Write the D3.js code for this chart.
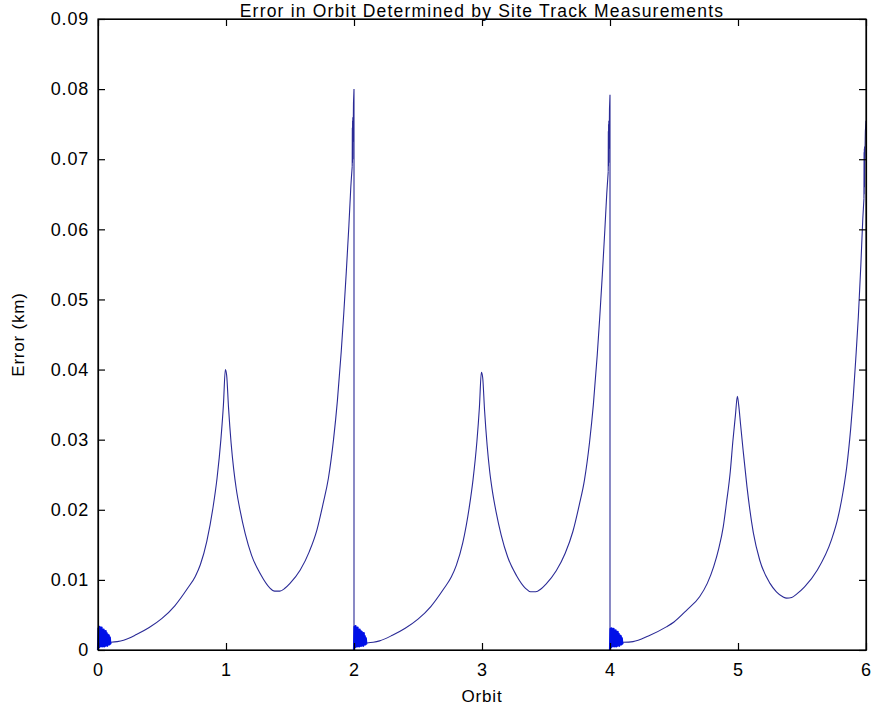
<!DOCTYPE html>
<html><head><meta charset="utf-8">
<script src="https://cdn.jsdelivr.net/npm/d3@7/dist/d3.min.js"></script>
<style>
body{margin:0;background:#fff;}
text{font-family:"Liberation Sans",Arial,sans-serif;fill:#000;}
</style></head>
<body><svg id="chart" width="874" height="715"></svg>
<script>
// ---- data ----
const chartTitle = "Error in Orbit Determined by Site Track Measurements";
const xLabel = "Orbit";
const yLabel = "Error (km)";
const orbitTicks = [0,1,2,3,4,5,6];
const errorTicks = [0,0.01,0.02,0.03,0.04,0.05,0.06,0.07,0.08,0.09];
const errorTickLabels = ["0","0.01","0.02","0.03","0.04","0.05","0.06","0.07","0.08","0.09"];

// smooth part of each orbit pair
const cycle1Orbit = [0.10,0.15,0.20,0.30,0.40,0.50,0.60,0.70,0.76,0.80,0.85,0.90,0.93,0.96,0.98,0.995,1.005,1.02,1.04,1.06,1.08,1.11,1.15,1.20,1.27,1.34,1.38,1.42,1.46,1.50,1.58,1.65,1.71,1.76,1.80,1.84,1.87,1.90,1.92,1.94,1.96,1.975,1.986];
const cycle1Error = [0.0011,0.0012,0.0014,0.0022,0.0032,0.0045,0.0063,0.0088,0.0105,0.0122,0.0155,0.0205,0.0245,0.0300,0.0350,0.0400,0.0392,0.0345,0.0295,0.0258,0.0230,0.0199,0.0166,0.0135,0.0108,0.0089,0.0084,0.0084,0.0088,0.0095,0.0114,0.0140,0.0171,0.0210,0.0245,0.0300,0.0355,0.0425,0.0480,0.0540,0.0605,0.0660,0.0690];
const cycle2Orbit = [2.10,2.15,2.20,2.30,2.40,2.50,2.60,2.70,2.76,2.80,2.85,2.90,2.93,2.96,2.98,2.995,3.005,3.02,3.04,3.06,3.08,3.11,3.15,3.20,3.27,3.34,3.38,3.42,3.46,3.50,3.58,3.65,3.71,3.76,3.80,3.84,3.87,3.90,3.92,3.94,3.96,3.975,3.986];
const cycle2Error = [0.0010,0.0011,0.0013,0.0021,0.0031,0.0044,0.0062,0.0087,0.0104,0.0121,0.0153,0.0203,0.0243,0.0297,0.0347,0.0396,0.0389,0.0342,0.0292,0.0255,0.0228,0.0197,0.0164,0.0133,0.0106,0.0088,0.0083,0.0083,0.0087,0.0094,0.0113,0.0138,0.0169,0.0207,0.0242,0.0296,0.0350,0.0420,0.0475,0.0535,0.0600,0.0652,0.0682];
const cycle3Orbit = [4.10,4.18,4.30,4.44,4.50,4.60,4.70,4.76,4.81,4.85,4.885,4.91,4.94,4.96,4.98,4.995,5.005,5.02,5.04,5.07,5.12,5.17,5.25,5.30,5.35,5.38,5.42,5.46,5.52,5.62,5.73,5.78,5.82,5.85,5.88,5.90,5.92,5.94,5.96,5.975,5.984];
const cycle3Error = [0.0011,0.0012,0.0020,0.0033,0.0040,0.0057,0.0076,0.0095,0.0119,0.0145,0.0176,0.0210,0.0255,0.0298,0.0335,0.0362,0.0350,0.0322,0.0285,0.0233,0.0167,0.0128,0.0095,0.0083,0.0076,0.0074,0.0075,0.0080,0.0090,0.0114,0.0157,0.0188,0.0225,0.0262,0.0315,0.0360,0.0415,0.0475,0.0550,0.0615,0.0644];

// start-of-pass jitter (dense oscillation)
const jitterStartOrbit1 = [0.000,0.004,0.008,0.012,0.016,0.020,0.024,0.028,0.032,0.036,0.040,0.044,0.048,0.052,0.056,0.060,0.064,0.068,0.072,0.076,0.080,0.084,0.088,0.092,0.096,0.100];
const jitterStartError1 = [0.0000,0.0031,0.0004,0.0033,0.0005,0.0030,0.0006,0.0032,0.0005,0.0028,0.0006,0.0029,0.0005,0.0025,0.0006,0.0027,0.0007,0.0024,0.0006,0.0022,0.0008,0.0021,0.0008,0.0018,0.0009,0.0011];
const jitterStartOrbit2 = [2.000,2.004,2.008,2.012,2.016,2.020,2.024,2.028,2.032,2.036,2.040,2.044,2.048,2.052,2.056,2.060,2.064,2.068,2.072,2.076,2.080,2.084,2.088,2.092,2.096,2.100];
const jitterStartError2 = [0.0000,0.0033,0.0004,0.0034,0.0005,0.0031,0.0005,0.0032,0.0006,0.0026,0.0005,0.0029,0.0006,0.0027,0.0006,0.0026,0.0007,0.0022,0.0006,0.0024,0.0008,0.0020,0.0008,0.0017,0.0009,0.0010];
const jitterStartOrbit3 = [4.000,4.004,4.008,4.012,4.016,4.020,4.024,4.028,4.032,4.036,4.040,4.044,4.048,4.052,4.056,4.060,4.064,4.068,4.072,4.076,4.080,4.084,4.088,4.092,4.096,4.100];
const jitterStartError3 = [0.0000,0.0030,0.0004,0.0031,0.0005,0.0029,0.0006,0.0030,0.0005,0.0027,0.0006,0.0028,0.0005,0.0024,0.0006,0.0026,0.0007,0.0023,0.0006,0.0021,0.0008,0.0020,0.0008,0.0017,0.0009,0.0011];

// end-of-pass jitter near the big peaks
const jitterEndOrbit1 = [1.986,1.987,1.988,1.989,1.990,1.991,1.993,1.996,2.000,2.000];
const jitterEndError1 = [0.0690,0.0745,0.0695,0.0755,0.0700,0.0760,0.0725,0.0780,0.0800,0.0000];
const jitterEndOrbit2 = [3.986,3.987,3.988,3.989,3.990,3.991,3.993,3.996,4.000,4.000];
const jitterEndError2 = [0.0682,0.0740,0.0690,0.0750,0.0695,0.0755,0.0715,0.0772,0.0792,0.0000];
const jitterEndOrbit3 = [5.984,5.985,5.986,5.987,5.988,5.989,5.991,5.995,6.000];
const jitterEndError3 = [0.0644,0.0710,0.0650,0.0715,0.0660,0.0718,0.0700,0.0740,0.0755];

// ---- drawing ----
const svg = d3.select("#chart");
const m = {left:98, right:866, top:19, bottom:650};
const x = d3.scaleLinear().domain([0,6]).range([m.left, m.right]);
const y = d3.scaleLinear().domain([0,0.09]).range([m.bottom, m.top]);
const zip = (a,b) => a.map((v,i)=>[v,b[i]]);
const line = d3.line().x(d=>x(d[0])).y(d=>y(d[1]));
const smooth = d3.line().x(d=>x(d[0])).y(d=>y(d[1])).curve(d3.curveMonotoneX);

const plot = svg.append("g");
const smoothColor = "#2a2a96", jitterColor = "#0010e8";

const cycles = [[cycle1Orbit,cycle1Error],[cycle2Orbit,cycle2Error],[cycle3Orbit,cycle3Error]];
const jStart = [[jitterStartOrbit1,jitterStartError1],[jitterStartOrbit2,jitterStartError2],[jitterStartOrbit3,jitterStartError3]];
const jEnd = [[jitterEndOrbit1,jitterEndError1],[jitterEndOrbit2,jitterEndError2],[jitterEndOrbit3,jitterEndError3]];

cycles.forEach((c,i)=>{
  const sj = zip(...jStart[i]);
  const pts = [sj[sj.length-1]].concat(zip(c[0],c[1]));
  plot.append("path").attr("d", smooth(pts)).attr("fill","none").attr("stroke",smoothColor).attr("stroke-width",1.1);
  plot.append("path").attr("d", line(sj)).attr("fill","none").attr("stroke",jitterColor).attr("stroke-width",2.2).attr("stroke-linejoin","round");
  const ej = zip(...jEnd[i]);
  plot.append("path").attr("d", line(ej)).attr("fill","none").attr("stroke",smoothColor).attr("stroke-width",1.1);
});

// axes with inward ticks on all four sides
const tickLen = 7;
const axB = svg.append("g").attr("transform",`translate(0,${m.bottom})`)
  .call(d3.axisBottom(x).tickValues(orbitTicks).tickFormat(d3.format("d")).tickSizeInner(-tickLen).tickSizeOuter(0).tickPadding(13));
const axT = svg.append("g").attr("transform",`translate(0,${m.top})`)
  .call(d3.axisTop(x).tickValues(orbitTicks).tickFormat("").tickSizeInner(-tickLen).tickSizeOuter(0));
const axL = svg.append("g").attr("transform",`translate(${m.left},0)`)
  .call(d3.axisLeft(y).tickValues(errorTicks).tickFormat((d,i)=>errorTickLabels[i]).tickSizeInner(-tickLen).tickSizeOuter(0).tickPadding(9));
const axR = svg.append("g").attr("transform",`translate(${m.right},0)`)
  .call(d3.axisRight(y).tickValues(errorTicks).tickFormat("").tickSizeInner(-tickLen).tickSizeOuter(0));
[axB,axT,axL,axR].forEach(a=>{
  a.selectAll(".domain").attr("stroke","#000").attr("stroke-width",1.2);
  a.selectAll(".tick line").attr("stroke","#000").attr("stroke-width",1.2);
  a.selectAll("text").attr("font-family","'Liberation Sans',Arial,sans-serif").attr("font-size",18).attr("letter-spacing","0.8px").attr("fill","#1a1a1a");
});
svg.append("rect").attr("x",m.left).attr("y",m.top).attr("width",m.right-m.left).attr("height",m.bottom-m.top)
  .attr("fill","none").attr("stroke","#000").attr("stroke-width",1.2);

svg.append("text").attr("x",(m.left+m.right)/2).attr("y",17).attr("text-anchor","middle").attr("font-size",17.5).attr("letter-spacing","1.2px").attr("fill","#1a1a1a").text(chartTitle);
svg.append("text").attr("x",(m.left+m.right)/2).attr("y",702).attr("text-anchor","middle").attr("font-size",17).attr("letter-spacing","0.8px").attr("fill","#1a1a1a").text(xLabel);
svg.append("text").attr("transform",`translate(24,${(m.top+m.bottom)/2}) rotate(-90)`).attr("text-anchor","middle").attr("font-size",17).attr("letter-spacing","0.8px").attr("fill","#1a1a1a").text(yLabel);
</script></body></html>
